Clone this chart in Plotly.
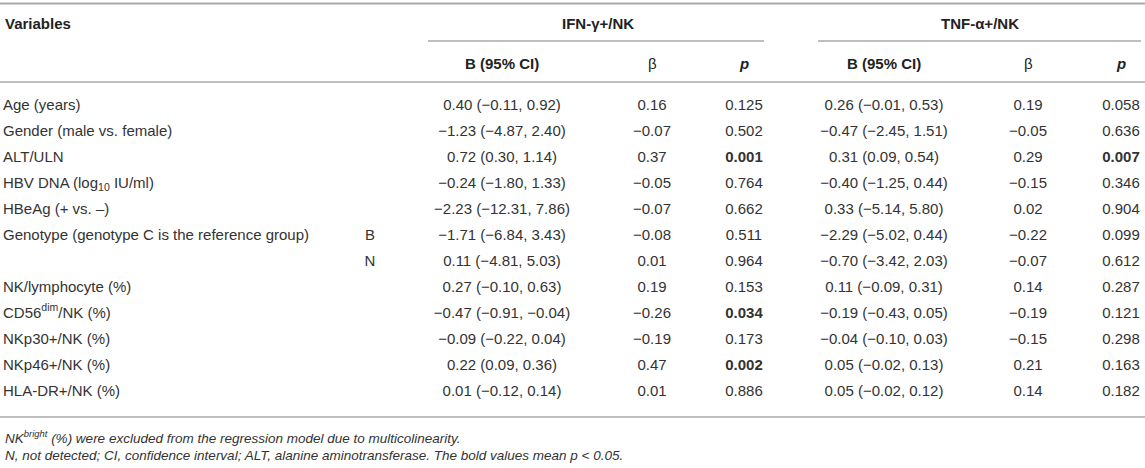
import plotly.graph_objects as go

# table content
variables = [
    "Age (years)",
    "Gender (male vs. female)",
    "ALT/ULN",
    "HBV DNA (log<sub>10</sub> IU/ml)",
    "HBeAg (+ vs. –)",
    "Genotype (genotype C is the reference group)",
    "",
    "NK/lymphocyte (%)",
    "CD56<sup>dim</sup>/NK (%)",
    "NKp30+/NK (%)",
    "NKp46+/NK (%)",
    "HLA-DR+/NK (%)",
]
subgroup = ["", "", "", "", "", "B", "N", "", "", "", "", ""]

ifn_b = ["0.40 (−0.11, 0.92)", "−1.23 (−4.87, 2.40)", "0.72 (0.30, 1.14)",
         "−0.24 (−1.80, 1.33)", "−2.23 (−12.31, 7.86)", "−1.71 (−6.84, 3.43)",
         "0.11 (−4.81, 5.03)", "0.27 (−0.10, 0.63)", "−0.47 (−0.91, −0.04)",
         "−0.09 (−0.22, 0.04)", "0.22 (0.09, 0.36)", "0.01 (−0.12, 0.14)"]
ifn_beta = ["0.16", "−0.07", "0.37", "−0.05", "−0.07", "−0.08",
            "0.01", "0.19", "−0.26", "−0.19", "0.47", "0.01"]
ifn_p = [0.125, 0.502, 0.001, 0.764, 0.662, 0.511,
         0.964, 0.153, 0.034, 0.173, 0.002, 0.886]

tnf_b = ["0.26 (−0.01, 0.53)", "−0.47 (−2.45, 1.51)", "0.31 (0.09, 0.54)",
         "−0.40 (−1.25, 0.44)", "0.33 (−5.14, 5.80)", "−2.29 (−5.02, 0.44)",
         "−0.70 (−3.42, 2.03)", "0.11 (−0.09, 0.31)", "−0.19 (−0.43, 0.05)",
         "−0.04 (−0.10, 0.03)", "0.05 (−0.02, 0.13)", "0.05 (−0.02, 0.12)"]
tnf_beta = ["0.19", "−0.05", "0.29", "−0.15", "0.02", "−0.22",
            "−0.07", "0.14", "−0.19", "−0.15", "0.21", "0.14"]
tnf_p = [0.058, 0.636, 0.007, 0.346, 0.904, 0.099,
         0.612, 0.287, 0.121, 0.298, 0.163, 0.182]

groups = ["IFN-γ+/NK", "TNF-α+/NK"]
subheaders = ["<b>B (95% CI)</b>", "β", "<b><i>p</i></b>"]
footnotes = [
    "<i>NK<sup>bright</sup> (%) were excluded from the regression model due to multicolinearity.</i>",
    "<i>N, not detected; CI, confidence interval; ALT, alanine aminotransferase. The bold values mean p < 0.05.</i>",
]

# layout (pixel units)
W, H = 1145, 468
FONT = "Liberation Sans, Arial, sans-serif"
TXT = "#333333"
RULE = "#aaaaaa"
LEFT_X = 3
SUB_X = 370
COL_X = [502, 652, 744, 884, 1028, 1121]
GROUP_X = [598, 980]
GROUP_LINE = [(428, 764), (818, 1141)]
Y_TOP = 3.5
Y_GROUP = 23
Y_GROUP_LINE = 41
Y_SUB = 63
Y_SUB_LINE = 82
Y_ROW0 = 106
ROW_STEP = 26
Y_BOTTOM = 417
Y_FOOT0 = 437
FOOT_STEP = 18

rows_y = [Y_ROW0 + i * ROW_STEP for i in range(len(variables))]


def fmt_p(v):
    s = f"{v:.3f}"
    return f"<b>{s}</b>" if v < 0.05 else s


fig = go.Figure()


def text_col(x, y, texts, pos="middle center", size=15, color=TXT):
    fig.add_trace(go.Scatter(
        x=[x] * len(texts), y=y, text=texts, mode="text",
        textposition=pos, hoverinfo="skip", showlegend=False,
        textfont=dict(family=FONT, size=size, color=color)))


text_col(LEFT_X, rows_y, variables, pos="middle right")
text_col(SUB_X, rows_y, subgroup)
text_col(COL_X[0], rows_y, ifn_b)
text_col(COL_X[1], rows_y, ifn_beta)
text_col(COL_X[2], rows_y, [fmt_p(v) for v in ifn_p])
text_col(COL_X[3], rows_y, tnf_b)
text_col(COL_X[4], rows_y, tnf_beta)
text_col(COL_X[5], rows_y, [fmt_p(v) for v in tnf_p])

# headers
hdr = dict(family=FONT, size=15, color="#222222")
fig.add_annotation(x=LEFT_X, y=Y_GROUP, text="<b>Variables</b>", xanchor="left",
                   showarrow=False, font=hdr)
for gx, g in zip(GROUP_X, groups):
    fig.add_annotation(x=gx, y=Y_GROUP, text=f"<b>{g}</b>", showarrow=False, font=hdr)
for i, cx in enumerate(COL_X):
    fig.add_annotation(x=cx, y=Y_SUB, text=subheaders[i % 3],
                       showarrow=False, font=hdr)

for i, f in enumerate(footnotes):
    fig.add_annotation(x=LEFT_X, y=Y_FOOT0 + i * FOOT_STEP, text=f, xanchor="left",
                       showarrow=False, font=dict(family=FONT, size=13.5, color=TXT))

# rules
fig.add_shape(type="line", x0=0, x1=W, y0=Y_TOP, y1=Y_TOP, line=dict(color=RULE, width=2))
for y in (Y_SUB_LINE, Y_BOTTOM):
    fig.add_shape(type="line", x0=0, x1=W, y0=y, y1=y, line=dict(color=RULE, width=1.5))
for x0, x1 in GROUP_LINE:
    fig.add_shape(type="line", x0=x0, x1=x1, y0=Y_GROUP_LINE, y1=Y_GROUP_LINE,
                  line=dict(color=RULE, width=1.5))

fig.update_layout(
    width=W, height=H, margin=dict(l=0, r=0, t=0, b=0),
    paper_bgcolor="white", plot_bgcolor="white",
    xaxis=dict(range=[0, W], visible=False, fixedrange=True),
    yaxis=dict(range=[H, 0], visible=False, fixedrange=True),
)

fig.write_html("out.html", config={"displayModeBar": False},
               post_script="document.body.style.margin='0';")
